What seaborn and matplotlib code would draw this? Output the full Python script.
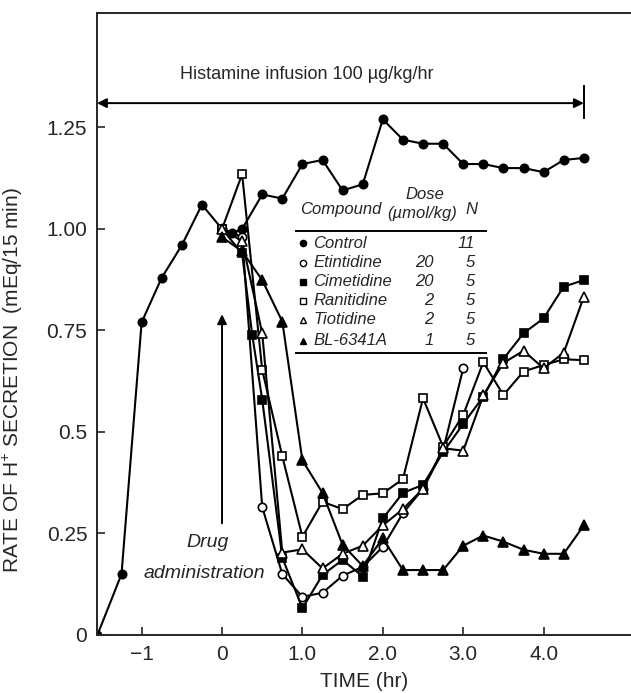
import numpy as np
import pandas as pd
import matplotlib
matplotlib.use("Agg")
import matplotlib.pyplot as plt
import seaborn as sns

sns.set_style("ticks")
plt.rcParams['font.family'] = ['Liberation Sans', 'DejaVu Sans']
plt.rcParams['mathtext.fontset'] = 'custom'
plt.rcParams['mathtext.rm'] = 'Liberation Sans'

# time (hr) and rate of H+ secretion (mEq/15 min)
t_control = [-1.55, -1.25, -1.0, -0.75, -0.5, -0.25, 0.0, 0.125, 0.25, 0.5, 0.75, 1.0, 1.25,
             1.5, 1.75, 2.0, 2.25, 2.5, 2.75, 3.0, 3.25, 3.5, 3.75, 4.0, 4.25, 4.5]
control = [0.0, 0.15, 0.77, 0.88, 0.96, 1.06, 1.0, 0.99, 1.0, 1.085, 1.075, 1.16, 1.17,
           1.095, 1.11, 1.27, 1.22, 1.21, 1.21, 1.16, 1.16, 1.15, 1.15, 1.14, 1.17, 1.175]

t_etin = [0.0, 0.25, 0.5, 0.75, 1.0, 1.25, 1.5, 1.75, 2.0, 2.25, 2.5, 2.75, 3.0]
etintidine = [1.0, 0.98, 0.315, 0.15, 0.094, 0.104, 0.146, 0.168, 0.217, 0.30, 0.36, 0.455, 0.657]

t_cime = [0.0, 0.25, 0.375, 0.5, 0.75, 1.0, 1.25, 1.5, 1.75, 2.0, 2.25, 2.5, 2.75, 3.0,
          3.25, 3.5, 3.75, 4.0, 4.25, 4.5]
cimetidine = [1.0, 0.94, 0.74, 0.58, 0.19, 0.066, 0.148, 0.185, 0.144, 0.287, 0.35, 0.37,
              0.45, 0.52, 0.587, 0.68, 0.743, 0.78, 0.858, 0.874]

t_std = [0.0, 0.25, 0.5, 0.75, 1.0, 1.25, 1.5, 1.75, 2.0, 2.25, 2.5, 2.75, 3.0, 3.25,
         3.5, 3.75, 4.0, 4.25, 4.5]
ranitidine = [1.0, 1.135, 0.653, 0.44, 0.242, 0.328, 0.31, 0.345, 0.349, 0.384, 0.583,
              0.464, 0.542, 0.672, 0.591, 0.649, 0.665, 0.679, 0.677]
tiotidine = [1.0, 0.97, 0.743, 0.203, 0.211, 0.164, 0.20, 0.22, 0.27, 0.31, 0.36, 0.46,
             0.454, 0.59, 0.67, 0.70, 0.657, 0.695, 0.833]
bl6341a = [0.98, 0.945, 0.874, 0.772, 0.43, 0.35, 0.222, 0.17, 0.238, 0.16, 0.16, 0.16,
           0.22, 0.245, 0.23, 0.21, 0.20, 0.20, 0.27]

compounds = ["Control", "Etintidine", "Cimetidine", "Ranitidine", "Tiotidine", "BL-6341A"]
doses = ["", "20", "20", "2", "2", "1"]
n_animals = ["11", "5", "5", "5", "5", "5"]

series = [
    (t_control, control, "o", "black"),
    (t_etin, etintidine, "o", "white"),
    (t_cime, cimetidine, "s", "black"),
    (t_std, ranitidine, "s", "white"),
    (t_std, tiotidine, "^", "white"),
    (t_std, bl6341a, "^", "black"),
]

fig = plt.figure(figsize=(6.31, 6.93), dpi=100)
ax = fig.add_axes([97 / 631, 58 / 693, 534 / 631, 622 / 693])

for name, (t, v, m, fc) in zip(compounds, series):
    df = pd.DataFrame({"t": t, "v": v})
    sns.lineplot(data=df, x="t", y="v", ax=ax, color="black", lw=1.5, marker=m,
                 markersize=6 if m != "^" else 6.5, markerfacecolor=fc,
                 markeredgecolor="black", markeredgewidth=1.2, estimator=None, sort=False)

ax.set_xlim(-1.555, 5.087)
ax.set_ylim(0, 1.532)
ax.set_xticks([-1, 0, 1, 2, 3, 4])
ax.set_xticklabels(["\u22121", "0", "1.0", "2.0", "3.0", "4.0"])
ax.set_yticks([0, 0.25, 0.5, 0.75, 1.0, 1.25])
ax.set_yticklabels(["0", "0.25", "0.5", "0.75", "1.00", "1.25"])
ax.tick_params(direction="in", length=6, width=1.2, labelsize=15, pad=7)
for s in ["left", "bottom", "top"]:
    ax.spines[s].set_linewidth(1.4)
ax.spines["right"].set_visible(False)
ax.set_xlabel("TIME (hr)", fontsize=15, labelpad=6)
ax.set_ylabel("RATE OF H$^{+}$ SECRETION  (mEq/15 min)", fontsize=15)
ax.yaxis.set_label_coords(-0.135, 0.41)

# histamine infusion bar
ax.annotate("", xy=(-1.555, 1.31), xytext=(4.5, 1.31),
            arrowprops=dict(arrowstyle="<|-|>", color="black", lw=1.4,
                            shrinkA=0, shrinkB=0, mutation_scale=14))
ax.vlines(4.5, 1.27, 1.355, color="black", lw=1.4)
ax.text(1.05, 1.36, "Histamine infusion 100 \u00b5g/kg/hr", ha="center", va="bottom",
        fontsize=13)

# drug administration arrow
ax.annotate("", xy=(0, 0.79), xytext=(0, 0.275),
            arrowprops=dict(arrowstyle="-|>", color="black", lw=1.4,
                            shrinkA=0, shrinkB=0, mutation_scale=14))
ax.text(-0.18, 0.228, "Drug", ha="center", va="center", fontsize=14, style="italic")
ax.text(-0.22, 0.152, "administration", ha="center", va="center", fontsize=14,
        style="italic")

# table legend
row_y = [0.965, 0.917, 0.870, 0.823, 0.776, 0.725]
ax.text(0.975, 1.047, "Compound", ha="left", va="center", fontsize=12, style="italic")
ax.text(2.52, 1.084, "Dose", ha="center", va="center", fontsize=12, style="italic")
ax.text(2.49, 1.039, "(\u00b5mol/kg)", ha="center", va="center", fontsize=12, style="italic")
ax.text(3.10, 1.047, "N", ha="center", va="center", fontsize=12, style="italic")
ax.hlines([0.996, 0.695], 0.905, 3.295, color="black", lw=1.4)
for y, name, d, n, (_, _, m, fc) in zip(row_y, compounds, doses, n_animals, series):
    ax.plot(1.008, y, marker=m, ms=4.5, mfc=fc, mec="black", mew=1.0, ls="none")
    ax.text(1.133, y, name, ha="left", va="center", fontsize=12, style="italic")
    ax.text(2.63, y, d, ha="right", va="center", fontsize=12, style="italic")
    ax.text(3.15, y, n, ha="right", va="center", fontsize=12, style="italic")

fig.savefig("out.png", dpi=100)
